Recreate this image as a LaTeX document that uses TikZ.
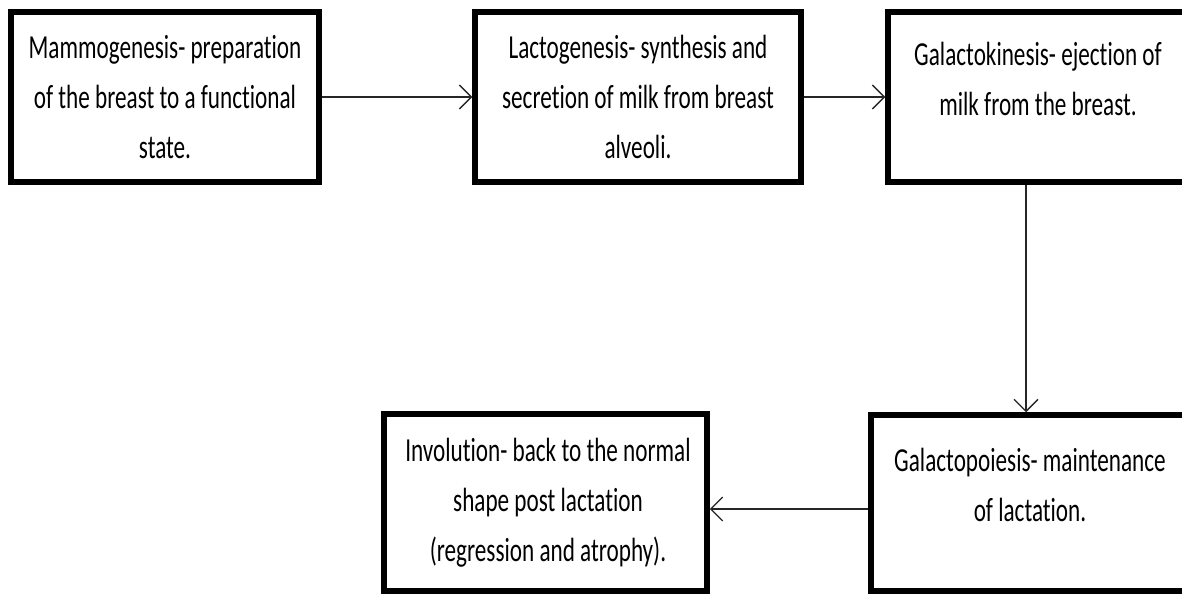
\documentclass[tikz,border=0pt]{standalone}
\usepackage{fontspec}
\newfontfamily\boxfont[FakeStretch=0.69,Ligatures={NoCommon}]{Carlito}
\usetikzlibrary{arrows.meta}
\newcommand{\Ln}{\strut}
\begin{document}
\begin{tikzpicture}[x=1pt,y=-1pt,
  box/.style={draw=black, line width=5.5pt, fill=white, rectangle, inner sep=0pt},
  txt/.style={align=center, inner sep=0pt, text=black, font=\boxfont\fontsize{33.6}{50}\selectfont},
  arr/.style={draw=black!85, line width=1.3pt, -{Straight Barb[length=12pt,width=24pt,line width=1.3pt]}}
]
\clip (0,0) rectangle (1182,594);
\fill[white] (0,0) rectangle (1182,594);

% boxes
\node[box, minimum width=308pt, minimum height=170pt] (b1) at (165,97) {};
\node[box, minimum width=326pt, minimum height=170pt] (b2) at (638,97) {};
\node[box, minimum width=300pt, minimum height=170pt] (b3) at (1038,97) {};
\node[box, minimum width=318pt, minimum height=176pt] (b4) at (1030,503) {};
\node[box, minimum width=323pt, minimum height=177pt] (b5) at (545.5,502.5) {};

% texts
\node[txt] (t1) at (165,98) {\Ln Mammogenesis- preparation\\\Ln of the breast to a functional\\\Ln state.};
\node[txt] (t2) at (638,98) {\Ln Lactogenesis- synthesis and\\\Ln secretion of milk from breast\\\Ln alveoli.};
\node[txt] (t3) at (1038,80) {\Ln Galactokinesis- ejection of\\\Ln milk from the breast.};
\node[txt] (t4) at (1030,486) {\Ln Galactopoiesis- maintenance\\\Ln of lactation.};
\node[txt] (t5) at (548,501) {\Ln Involution- back to the normal\\\Ln shape post lactation\\\Ln (regression and atrophy).};

% connector helpers
\coordinate (v) at (1026,300);
\coordinate (h) at (790,509);

% connectors
\draw[arr] (b1.east) -- (b2.west);
\draw[arr] (b2.east) -- (b3.west);
\draw[arr] (b3.south -| v) -- (b4.north -| v);
\draw[arr] (b4.west |- h) -- (b5.east |- h);
\end{tikzpicture}
\end{document}
